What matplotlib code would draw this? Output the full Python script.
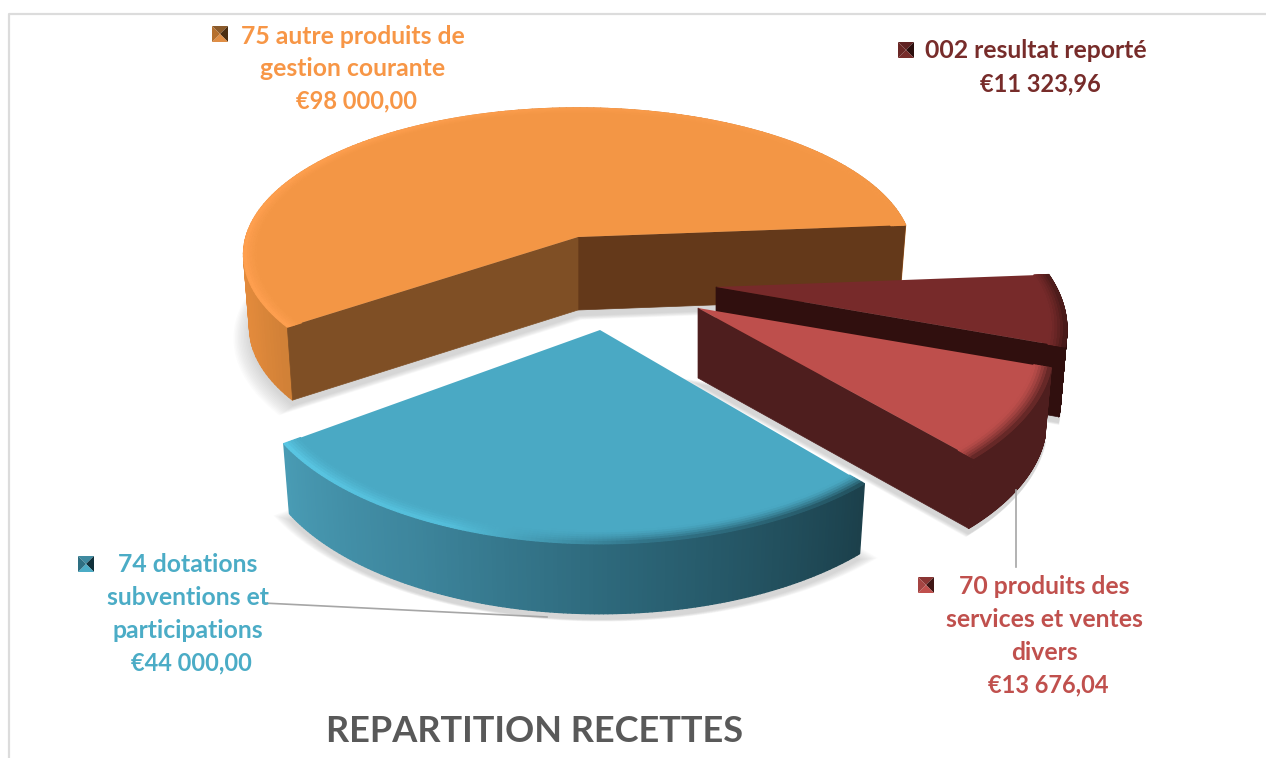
import numpy as np
import matplotlib
matplotlib.use('Agg')
import matplotlib.pyplot as plt
from matplotlib.collections import PolyCollection
from matplotlib.colors import to_rgb
from matplotlib.patches import Polygon

# values, counter clockwise from the first slice angle
names = ['75 autre produits de gestion courante',
         '74 dotations subventions et participations',
         '70 produits des services et ventes divers',
         '002 resultat reporté']
values = [98000.00, 44000.00, 13676.04, 11323.96]
title = 'REPARTITION RECETTES'

label_lines = [['75 autre produits de', 'gestion courante'],
               ['74 dotations', 'subventions et', 'participations'],
               ['70 produits des', 'services et ventes', 'divers'],
               ['002 resultat reporté']]

top_colors = ['#F39645', '#4AA9C4', '#BE4F4C', '#772A2A']
text_colors = ['#F79646', '#4BACC6', '#C0504D', '#772C2A']

# slice geometry in picture pixels
START = 4.5
centers = [(578, 237), (600, 330), (698, 308), (716, 287)]
radius_x = [332, 337, 344, 340]
radius_y = [144.5, 161, 161, 161]
persp = [0.12, 0.2466, 0.2466, 0.2466]
thick = [73, 70, 70, 70]
trim = [0.3, 1.2, 0, 0]  # rounded corners eat a little of the sweep

rim_stops = [[(0, '#C97A34'), (180, '#E88D3E'), (200, '#E0893B'), (217, '#CE7F36')],
             [(215, '#4A9DB6'), (245, '#3D859C'), (275, '#2B6476'), (310, '#1B3F4A')],
             [(309, '#4E1E1E'), (340, '#4E1E1E')],
             [(339, '#300F0E'), (364, '#300F0E')]]
bevel_stops = [[(0, '#F39645'), (170, '#FFA050'), (217, '#FFA050')],
               [(215, '#5CCBE8'), (250, '#55C0DC'), (275, '#2F6E82'), (310, '#1D4550')],
               [(309, '#5A2322'), (340, '#5A2322')],
               [(339, '#3F1716'), (364, '#4A1B1A')]]
cut_faces = [[(0, '#64391A'), (1, '#7F4F25')], [], [(0, '#4E1E1E')], [(0, '#300F0E')]]


def project(theta, r, i, drop=0.0):
  t = np.radians(theta)
  u, v = r*np.cos(t), r*np.sin(t)
  w = 1 + persp[i]*v
  x = centers[i][0] + radius_x[i]*u/w*(1 - 0.018*drop/thick[i])
  y = centers[i][1] - radius_y[i]*v/w + drop
  return np.column_stack([x, y])


def stops_color(stops, th):
  a = [s[0] for s in stops]
  cols = np.array([to_rgb(s[1]) for s in stops])
  return np.column_stack([np.interp(th, a, cols[:, i]) for i in range(3)])


def strip(ax, p0, p1, cols, z):
  quads = [[p0[i], p0[i+1], p1[i+1], p1[i]] for i in range(len(p0)-1)]
  ax.add_collection(PolyCollection(quads, facecolors=cols, edgecolors=cols,
                                   linewidths=1.0, zorder=z))


def draw_slice(ax, i, a0, a1, z):
  th = np.linspace(a0 + trim[i], a1 - trim[i], 160)
  apex = np.array([centers[i]], dtype=float)
  top = project(th, 1, i)
  low = project(th, 1, i, thick[i])
  apex_low = apex + [0, thick[i]]

  # soft shadow under the slice
  sh = np.vstack([apex_low, low])
  mid = sh.mean(axis=0)
  for g in np.linspace(1.0, 1.06, 12):
    ax.add_patch(Polygon(mid + (sh - mid)*g + [0, 6], fc='#999999', ec='none',
                         alpha=0.035, zorder=z))

  strip(ax, top, low, stops_color(rim_stops[i], th)[:-1], z+1)

  for end, col in cut_faces[i]:
    e = top[-1 if end else 0]
    el = low[-1 if end else 0]
    ax.add_patch(Polygon([apex[0], e, el, apex_low[0]], fc=col, ec=col, lw=0.5, zorder=z+2))

  ax.add_patch(Polygon(np.vstack([apex, top]), fc=top_colors[i], ec='none', zorder=z+3))

  # bevel round the outer edge of the top face
  rings = np.linspace(0.955, 1.0, 7)
  base = np.array(to_rgb(top_colors[i]))
  bev = stops_color(bevel_stops[i], th)[:-1]
  for j in range(len(rings)-1):
    f = ((j + 0.5)/(len(rings)-1))**1.5
    strip(ax, project(th, rings[j], i), project(th, rings[j+1], i),
          base*(1-f) + bev*f, z+4)


def legend_key(ax, x, y, cols, size=16):
  # cols: top, right, bottom, left
  mid = (x + size/2, y + size/2)
  corners = [(x, y), (x+size, y), (x+size, y+size), (x, y+size)]
  for k, col in enumerate(cols):
    ax.add_patch(Polygon([corners[k], corners[(k+1) % 4], mid], fc=col, ec='none', zorder=30))


def euro(v):
  whole, dec = f'{v:,.2f}'.split('.')
  return '€' + whole.replace(',', ' ') + ',' + dec


plt.rcParams['font.family'] = ['Lato', 'DejaVu Sans']
fig = plt.figure(figsize=(12.66, 7.58), dpi=100)
ax = fig.add_axes([0, 0, 1, 1])
ax.set_xlim(0, 1266)
ax.set_ylim(758, 0)
ax.axis('off')

# chart frame
ax.plot([9, 9, 1266], [758, 14, 14], color='#DCDCDC', lw=1.6, zorder=1)

sweep = np.array(values)/sum(values)*360
edges = START + np.r_[0, np.cumsum(sweep)]
for i, z in zip([0, 3, 1, 2], [2, 10, 20, 15]):
  draw_slice(ax, i, edges[i], edges[i+1], z)

# leader lines
ax.plot([263, 547], [603, 617], color='#A6A6A6', lw=1.2, zorder=29)
ax.plot([1016, 1016], [490, 567], color='#A6A6A6', lw=1.2, zorder=29)

label_x = [353, 188, 1044, 1036]
label_y = [36, 565, 587, 51]
value_dx = [4, 3, 4, 4]
LINE = 32.7
for i in range(4):
  lines = label_lines[i]
  for n, txt in enumerate(lines):
    ax.text(label_x[i], label_y[i] + n*LINE, txt, color=text_colors[i], fontsize=17.8,
            fontweight='bold', ha='center', va='center', zorder=31)
  ax.text(label_x[i] + value_dx[i], label_y[i] + len(lines)*LINE, euro(values[i]),
          color=text_colors[i], fontsize=17, fontweight='bold', ha='center', va='center', zorder=31)

legend_key(ax, 212, 26, ['#8A5A2B', '#4B2E12', '#E08E45', '#B5702E'])
legend_key(ax, 78, 556, ['#3F8AA0', '#10303A', '#4BACC6', '#2E6F82'])
legend_key(ax, 918, 577, ['#8A3533', '#3F1615', '#C0504D', '#A54442'])
legend_key(ax, 898, 42, ['#5F2222', '#2B0E0D', '#772C2A', '#6A2725'])

ax.text(535, 731, title, color='#595959', fontsize=26, fontweight='bold',
        ha='center', va='center', zorder=31)

fig.savefig('out.png', dpi=100)
